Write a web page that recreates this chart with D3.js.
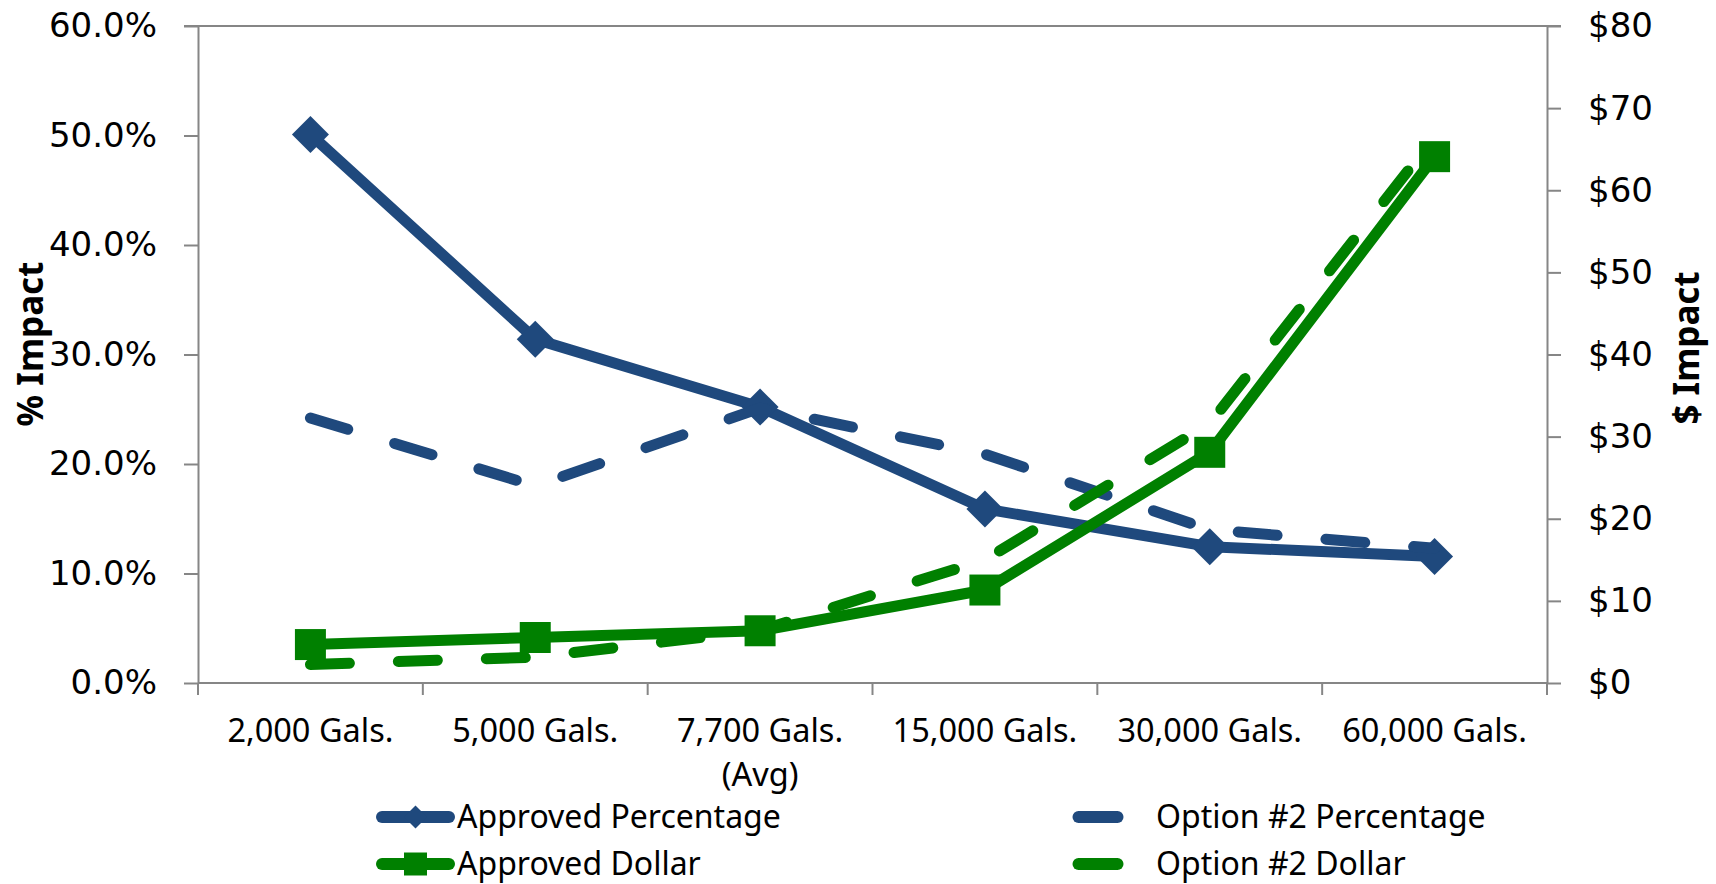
<!DOCTYPE html>
<html>
<head>
<meta charset="utf-8">
<script src="https://cdn.jsdelivr.net/npm/d3@7"></script>
<style>
  html, body { margin: 0; padding: 0; background: #ffffff; }
  svg { display: block; }
</style>
</head>
<body>
<svg id="chart" width="1716" height="884"></svg>
<script>
// ---------------- DATA ----------------
const categories = ["2,000 Gals.", "5,000 Gals.", "7,700 Gals.|(Avg)", "15,000 Gals.", "30,000 Gals.", "60,000 Gals."];
const pctTicks = [0, 10, 20, 30, 40, 50, 60];
const dollarTicks = [0, 10, 20, 30, 40, 50, 60, 70, 80];
const approvedPercentage = [50.1, 31.4, 25.2, 15.9, 12.45, 11.55];
const option2Percentage  = [24.2, 18.0, 25.1, 20.9, 14.0, 12.3];
const approvedDollar     = [4.68, 5.54, 6.36, 11.32, 28.09, 64.09];
const option2Dollar      = [2.26, 3.15, 6.4, 15.0, 31.6, 66.5];
const seriesNames = ["Approved Percentage", "Option #2 Percentage", "Approved Dollar", "Option #2 Dollar"];

// ---------------- LAYOUT ----------------
const plotLeft = 198, plotRight = 1547, plotTop = 26, plotBottom = 683;
const BLUE = "#1f497d", GREEN = "#008000", AXIS = "#868686";
const LW = 11;
const DASH = "39 49";
const svg = d3.select("#chart");

const x = d3.scaleBand().domain(categories).range([plotLeft, plotRight]).paddingInner(0).paddingOuter(0);
const cx = c => x(c) + x.bandwidth() / 2;
const yL = d3.scaleLinear().domain([0, 60]).range([plotBottom, plotTop]);
const yR = d3.scaleLinear().domain([0, 80]).range([plotBottom, plotTop]);

// top border line
svg.append("line").attr("x1", plotLeft - 14).attr("x2", plotRight + 14).attr("y1", plotTop).attr("y2", plotTop)
  .attr("stroke", AXIS).attr("stroke-width", 2);

// left axis
const gL = svg.append("g").attr("transform", `translate(${plotLeft},0)`)
  .call(d3.axisLeft(yL).tickValues(pctTicks).tickFormat(d => d.toFixed(1) + "%")
    .tickSize(14).tickSizeOuter(0).tickPadding(27));
// right axis
const gR = svg.append("g").attr("transform", `translate(${plotRight},0)`)
  .call(d3.axisRight(yR).tickValues(dollarTicks).tickFormat(d => "$" + d)
    .tickSize(14).tickSizeOuter(0).tickPadding(27));
[gL, gR].forEach(g => {
  g.select(".domain").attr("stroke", AXIS).attr("stroke-width", 2);
  g.selectAll(".tick line").attr("stroke", AXIS).attr("stroke-width", 2);
  g.selectAll(".tick text").attr("font-family", "'DejaVu Sans', Verdana, sans-serif")
    .attr("font-size", 34).attr("fill", "#000");
});

// bottom axis
svg.append("line").attr("x1", plotLeft).attr("x2", plotRight).attr("y1", plotBottom).attr("y2", plotBottom)
  .attr("stroke", AXIS).attr("stroke-width", 2);
const edges = categories.map(c => x(c)).concat([plotRight]);
svg.append("g").selectAll("line").data(edges).join("line")
  .attr("x1", d => d).attr("x2", d => d).attr("y1", plotBottom).attr("y2", plotBottom + 12)
  .attr("stroke", AXIS).attr("stroke-width", 2);
const xl = svg.append("g").selectAll("text").data(categories).join("text")
  .attr("x", d => cx(d)).attr("y", 742)
  .attr("text-anchor", "middle")
  .attr("font-family", "'Noto Sans', 'Open Sans', sans-serif").attr("font-size", 32.5).attr("fill", "#000");
xl.each(function (d) {
  const parts = d.split("|");
  d3.select(this).selectAll("tspan").data(parts).join("tspan")
    .attr("x", cx(d)).attr("dy", (p, i) => i === 0 ? 0 : 44).text(p => p);
});

// axis titles
svg.append("text").attr("transform", "translate(43,344) rotate(-90)")
  .attr("text-anchor", "middle").attr("font-family", "'Noto Sans', sans-serif")
  .attr("font-weight", "bold").attr("font-size", 35).attr("fill", "#000").text("% Impact");
svg.append("text").attr("transform", "translate(1699,348) rotate(-90)")
  .attr("text-anchor", "middle").attr("font-family", "'Noto Sans', sans-serif")
  .attr("font-weight", "bold").attr("font-size", 35).attr("fill", "#000").text("$ Impact");

// ---------------- SERIES ----------------
const series = [
  { name: seriesNames[0], values: approvedPercentage, y: yL, color: BLUE, dash: null, marker: "diamond" },
  { name: seriesNames[1], values: option2Percentage, y: yL, color: BLUE, dash: DASH, marker: null },
  { name: seriesNames[2], values: approvedDollar, y: yR, color: GREEN, dash: null, marker: "square" },
  { name: seriesNames[3], values: option2Dollar, y: yR, color: GREEN, dash: DASH, marker: null }
];

function markerPath(type, s) {
  if (type === "diamond") return `M0,${-s}L${s},0L0,${s}L${-s},0Z`;
  return `M${-s},${-s}H${s}V${s}H${-s}Z`;
}

series.forEach(s => {
  const line = d3.line().x((d, i) => cx(categories[i])).y(d => s.y(d));
  svg.append("path").datum(s.values).attr("d", line)
    .attr("fill", "none").attr("stroke", s.color).attr("stroke-width", LW)
    .attr("stroke-linejoin", "round")
    .attr("stroke-linecap", s.dash ? "round" : "butt")
    .attr("stroke-dasharray", s.dash);
  if (s.marker) {
    svg.append("g").selectAll("path").data(s.values).join("path")
      .attr("transform", (d, i) => `translate(${cx(categories[i])},${s.y(d)})`)
      .attr("d", markerPath(s.marker, s.marker === "diamond" ? 18.5 : 15.5))
      .attr("fill", s.color);
  }
});

// ---------------- LEGEND ----------------
const legendRows = [817, 864];
const legendCols = [{ lx1: 382, lx2: 449, tx: 457 }, { lx1: 1078.5, lx2: 1117.5, tx: 1156 }];
series.forEach((s, i) => {
  const col = legendCols[i % 2], ry = legendRows[Math.floor(i / 2)];
  const g = svg.append("g");
  g.append("line").attr("x1", col.lx1).attr("x2", col.lx2).attr("y1", ry).attr("y2", ry)
    .attr("stroke", s.color).attr("stroke-width", 12).attr("stroke-linecap", "round");
  if (s.marker) {
    g.append("path").attr("transform", `translate(${(col.lx1 + col.lx2) / 2},${ry})`)
      .attr("d", markerPath(s.marker, 11.5)).attr("fill", s.color);
  }
  g.append("text").attr("x", col.tx).attr("y", ry + 11)
    .attr("font-family", "'Noto Sans', 'Open Sans', sans-serif").attr("font-size", 32)
    .attr("fill", "#000").text(s.name);
});
</script>
</body>
</html>
